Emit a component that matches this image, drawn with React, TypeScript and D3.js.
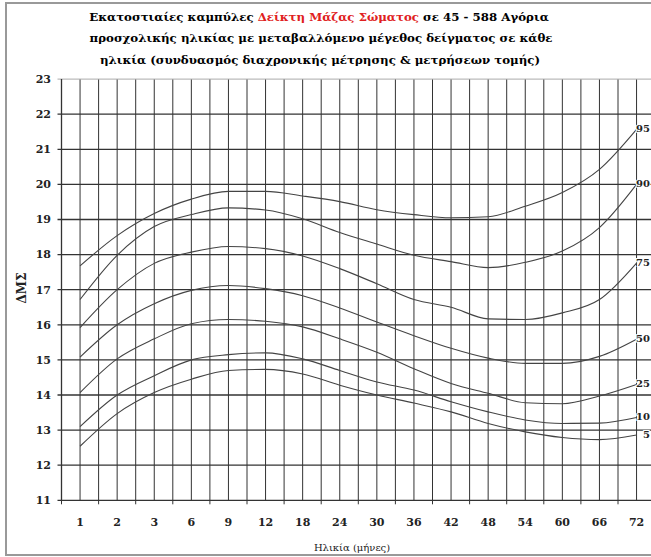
import * as d3 from "d3";

const ages = [1, 2, 3, 6, 9, 12, 18, 24, 30, 36, 42, 48, 54, 60, 66, 72];
const yTicks = [11, 12, 13, 14, 15, 16, 17, 18, 19, 20, 21, 22, 23];

const p95 = [17.68, 18.54, 19.17, 19.58, 19.8, 19.8, 19.67, 19.51, 19.28, 19.14, 19.05, 19.08, 19.38, 19.77, 20.43, 21.57];
const p90 = [16.72, 17.98, 18.8, 19.14, 19.33, 19.27, 19.02, 18.63, 18.3, 17.98, 17.8, 17.63, 17.78, 18.1, 18.77, 20.0];
const p75 = [15.92, 17.0, 17.75, 18.07, 18.23, 18.17, 17.96, 17.6, 17.17, 16.72, 16.5, 16.17, 16.15, 16.34, 16.72, 17.76];
const p50 = [15.08, 16.0, 16.6, 16.98, 17.12, 17.03, 16.83, 16.48, 16.08, 15.69, 15.33, 15.05, 14.9, 14.9, 15.1, 15.59];
const p25 = [14.07, 15.03, 15.6, 16.03, 16.15, 16.1, 15.94, 15.6, 15.22, 14.75, 14.33, 14.05, 13.78, 13.75, 13.97, 14.3];
const p10 = [13.1, 14.0, 14.55, 15.0, 15.15, 15.2, 15.03, 14.7, 14.37, 14.14, 13.81, 13.52, 13.29, 13.19, 13.2, 13.36];
const p5 = [12.54, 13.47, 14.07, 14.45, 14.7, 14.73, 14.6, 14.28, 14.0, 13.77, 13.52, 13.19, 12.95, 12.79, 12.73, 12.86];

const series = [
  { name: "95", values: p95 },
  { name: "90", values: p90 },
  { name: "75", values: p75 },
  { name: "50", values: p50 },
  { name: "25", values: p25 },
  { name: "10", values: p10 },
  { name: "5", values: p5 },
];

const width = 651;
const height = 557;
const left = 61.5;
const top = 79.1;
const bottom = 500.3;
const bandW = 37.1;

const App = () => {
  const xScale = d3
    .scaleBand<number>()
    .domain(ages)
    .range([left, left + bandW * ages.length])
    .padding(0);
  const yScale = d3.scaleLinear().domain([11, 23]).range([bottom, top]);
  const bw = xScale.bandwidth();
  const cx = (a: number) => (xScale(a) ?? 0) + bw / 2;

  const lineFunc = d3
    .line<number>()
    .x((d, i) => cx(ages[i]))
    .y((d) => yScale(d))
    .curve(d3.curveMonotoneX);

  const serif = "'DejaVu Serif', 'Liberation Serif', serif";

  return (
    <svg
      width={width}
      height={height}
      style={{ position: "absolute", left: 0, top: 0, background: "#fff" }}
    >
      <g fontFamily={serif}>
        <rect x={6} y={3} width={700} height={552} fill="none" stroke="#999" strokeWidth={2} />

        <text textAnchor="middle" fontWeight="bold" fontSize={11.8}>
          <tspan x={319} y={21}>
            Εκατοστιαίες καμπύλες <tspan fill="#e02020">Δείκτη Μάζας Σώματος</tspan> σε 45 - 588 Αγόρια
          </tspan>
          <tspan x={321} y={42}>
            προσχολικής ηλικίας με μεταβαλλόμενο μέγεθος δείγματος σε κάθε
          </tspan>
          <tspan x={320} y={64}>
            ηλικία  (συνδυασμός διαχρονικής μέτρησης &amp; μετρήσεων τομής)
          </tspan>
        </text>

        {/* vertical grid: band edges and centres */}
        {ages.map((a) => (
          <g key={a}>
            <line x1={xScale(a)} x2={xScale(a)} y1={top} y2={bottom} stroke="#333" strokeWidth={1} />
            <line x1={cx(a)} x2={cx(a)} y1={top} y2={bottom} stroke="#333" strokeWidth={1} />
            <line x1={xScale(a)} x2={xScale(a)} y1={bottom} y2={bottom + 4} stroke="#333" />
          </g>
        ))}

        {/* horizontal grid */}
        {yTicks.map((t) => (
          <g key={t}>
            <line
              x1={left - 4}
              x2={width}
              y1={yScale(t)}
              y2={yScale(t)}
              stroke={t === 23 ? "#aaa" : "#333"}
              strokeWidth={t === 23 ? 1 : 1.3}
            />
            <text
              x={51}
              y={yScale(t)}
              dy="0.35em"
              textAnchor="end"
              fontWeight="bold"
              fontSize={11}
              fill="#222"
            >
              {t}
            </text>
          </g>
        ))}
        <line x1={left} x2={left} y1={top} y2={bottom} stroke="#333" strokeWidth={1.3} />

        {ages.map((a) => (
          <text
            key={a}
            x={cx(a)}
            y={526}
            textAnchor="middle"
            fontWeight="bold"
            fontSize={11}
            fill="#222"
          >
            {a}
          </text>
        ))}

        {series.map((s) => (
          <g key={s.name}>
            <path d={lineFunc(s.values) ?? ""} fill="none" stroke="#444" strokeWidth={1.1} />
            <text
              x={width - 1}
              y={yScale(s.values[s.values.length - 1])}
              dy="0.3em"
              textAnchor="end"
              fontWeight="bold"
              fontSize={10}
              fill="#222"
              stroke="#fff"
              strokeWidth={2}
              paintOrder="stroke"
            >
              {s.name}
            </text>
          </g>
        ))}

        <text
          transform={`translate(26, 288) rotate(-90)`}
          textAnchor="middle"
          fontWeight="bold"
          fontSize={12}
          fill="#222"
        >
          ΔΜΣ
        </text>
        <text x={352} y={551} textAnchor="middle" fontSize={10} fill="#222">
          Ηλικία (μήνες)
        </text>
      </g>
    </svg>
  );
};

export default App;
